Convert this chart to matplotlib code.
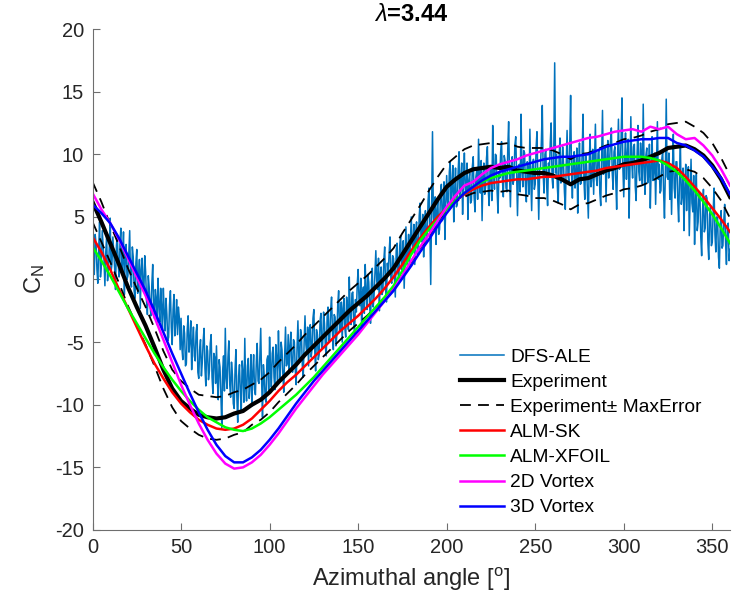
import numpy as np
import matplotlib
matplotlib.use("Agg")
import matplotlib.pyplot as plt

plt.rcParams['font.family'] = ['Liberation Sans', 'DejaVu Sans']
plt.rcParams['mathtext.fontset'] = 'custom'
plt.rcParams['mathtext.rm'] = 'Liberation Sans'
plt.rcParams['mathtext.it'] = 'Liberation Sans:italic'
plt.rcParams['mathtext.bf'] = 'Liberation Sans:bold'
plt.rcParams['axes.unicode_minus'] = False

# DFS-ALE normal force coefficient, every half degree (0..360)
dfs_ale = [
    3.2, 1.0, 0.4, 3.6, 2.9, 0.8, -0.3, 2.4, 4.6, 0.2, 1.1, 3.9, 2.7, 1.5, -0.5, 2.2, 3.5, -0.1, 0.9, 2.6,
    4.9, 0.6, 1.3, 3.4, 2.2, 0.9, -0.8, 2.7, 3.6, 1.2, 0.2, 2.9, 4.1, 0.4, 1.5, 3.8, -1.2, 1.9, 2.8, 0.0,
    0.3, 2.2, 3.9, -0.2, -0.6, 2.6, 1.8, -0.9, -1.5, 1.3, 2.4, -1.1, 0.1, 1.6, -2.3, 0.8, 1.7, -0.4, -1.0, 1.9,
    0.6, -1.7, -2.8, 0.3, -0.6, -2.1, -2.9, -0.4, 1.2, -1.9, -3.1, -0.8, -1.5, -3.6, 0.1, -2.0, -3.4, -0.7, -2.2, -4.0,
    -0.7, -2.6, -4.1, -1.5, -2.8, -4.9, -4.6, -2.0, -0.9, -3.8, -5.2, -2.4, -1.2, -4.5, -3.4, -1.6, -4.4, -2.2, -3.0, -5.6,
    -3.1, -5.5, -6.4, -3.7, -4.3, -6.9, -6.7, -4.0, -2.9, -5.8, -4.9, -3.3, -7.2, -5.0, -3.8, -6.1, -6.5, -4.2, -3.6, -7.4,
    -7.9, -5.6, -4.8, -7.7, -6.6, -4.9, -3.9, -7.1, -8.5, -5.3, -5.7, -8.0, -7.3, -5.1, -4.4, -7.8, -9.1, -5.9, -6.2, -8.3,
    -5.3, -8.0, -9.6, -6.4, -7.0, -9.2, -11.8, -7.3, -6.1, -8.9, -3.9, -7.9, -8.7, -6.2, -4.9, -8.4, -9.4, -6.6, -7.6, -9.9,
    -10.3, -7.2, -5.6, -9.3, -11.4, -7.7, -6.8, -9.0, -10.6, -6.5, -7.4, -9.8, -4.7, -8.6, -9.7, -6.9, -6.3, -9.5, -8.4, -6.0,
    -10.1, -7.4, -6.0, -8.8, -9.2, -6.6, -5.1, -8.1, -8.3, -6.2, -3.9, -8.0, -11.0, -6.8, -7.7, -9.5, -9.8, -6.4, -6.1, -8.9,
    -4.6, -7.0, -8.6, -5.9, -5.4, -7.8, -8.8, -5.2, -6.3, -8.2, -4.1, -6.8, -7.9, -5.0, -5.6, -7.6, -9.0, -6.1, -3.8, -6.9,
    -6.7, -4.4, -7.5, -5.3, -4.2, -7.0, -7.4, -4.8, -5.0, -7.2, -8.4, -5.5, -3.3, -6.2, -6.6, -4.0, -4.5, -6.9, -7.8, -5.1,
    -2.9, -5.2, -5.9, -3.8, -6.9, -4.1, -3.6, -6.2, -5.5, -3.1, -2.4, -5.7, -7.3, -4.0, -4.4, -6.4, -6.0, -3.3, -2.7, -5.6,
    -5.2, -2.6, -3.5, -5.4, -6.1, -3.0, -2.2, -4.9, -4.7, -2.4, -1.4, -4.2, -5.6, -2.8, -3.0, -5.3, -4.4, -2.0, -0.9, -4.1,
    -3.9, -1.8, -5.0, -2.3, -1.5, -3.9, -4.6, -1.4, -2.2, -4.0, 0.2, -2.7, -3.6, -1.1, -1.0, -3.4, -4.3, -1.6, -2.6, -0.4,
    0.8, -1.6, -2.1, 0.1, -3.9, -1.0, -0.6, -2.7, 1.2, -0.9, -2.4, 0.4, -0.2, -2.0, -3.5, -0.3, 0.9, -2.2, -1.3, 0.6,
    2.3, -0.1, -0.8, 1.7, -2.5, 0.4, 1.0, -1.2, -0.9, 1.5, 2.6, -0.6, -1.8, 1.3, 0.5, 2.1, 3.4, 0.0, -0.3, 1.9,
    1.7, 0.2, -1.4, 2.3, 2.9, 0.5, 0.1, 2.7, 3.5, 0.8, 1.4, 3.1, -0.7, 1.9, 4.2, 1.2, 2.0, 3.6, 0.9, 2.9,
    5.0, 2.8, 2.3, 4.4, 1.2, 3.7, 4.6, 2.0, 2.5, 5.1, 6.1, 3.3, 3.0, 5.2, 1.8, 4.0, 5.5, 2.9, 3.6, 6.3,
    7.3, 4.4, -0.4, 5.9, 11.8, 5.0, 4.1, 6.6, 2.8, 5.5, 6.4, 3.6, 4.0, 6.9, 7.6, 4.7, 5.1, 7.8, 3.2, 6.0,
    8.3, 6.2, 5.7, 8.6, 9.4, 6.0, 7.4, 9.1, 4.6, 7.0, 8.9, 5.8, 6.0, 8.7, 10.2, 6.5, 7.8, 9.3, 5.2, 8.0,
    10.1, 7.2, 6.7, 9.3, 4.8, 7.9, 8.5, 6.1, 6.3, 9.0, 9.8, 6.6, 5.4, 8.2, 8.7, 6.4, 11.2, 7.7, 6.9, 9.5,
    4.7, 8.2, 9.3, 6.8, 7.4, 9.7, 10.6, 7.1, 5.9, 8.9, 8.8, 6.3, 12.3, 8.4, 7.2, 10.0, 9.9, 7.0, 5.3, 8.6,
    8.1, 10.2, 11.0, 7.9, 6.6, 9.9, 9.5, 7.3, 7.0, 10.4, 12.6, 8.3, 5.8, 9.1, 9.8, 7.6, 8.0, 10.7, 11.4, 8.5,
    5.1, 8.4, 9.2, 7.0, 13.2, 8.8, 7.4, 10.3, 10.1, 7.5, 6.2, 9.4, 8.9, 6.8, 12.0, 8.1, 5.5, 9.0, 9.6, 7.2,
    7.6, 10.5, 11.8, 8.0, 4.8, 8.7, 9.0, 11.1, 13.9, 8.4, 6.9, 10.0, 10.4, 7.4, 5.9, 9.3, 8.5, 10.9, 12.5, 8.2,
    7.3, 10.4, 17.3, 8.5, 10.0, 7.4, 6.1, 9.8, 11.3, 7.7, 8.0, 10.6, 9.2, 7.0, 5.6, 9.1, 11.9, 8.3, 7.8, 10.8,
    14.7, 8.6, 6.5, 9.7, 10.2, 7.3, 8.4, 10.5, 5.3, 8.8, 10.9, 7.6, 7.7, 10.0, 13.2, 8.0, 6.4, 9.9, 9.1, 7.1,
    4.9, 9.2, 11.6, 7.4, 8.2, 10.4, 6.8, 9.5, 12.4, 8.1, 7.5, 10.1, 10.3, 6.9, 5.9, 9.6, 13.5, 8.4, 8.6, 10.7,
    6.2, 9.6, 11.1, 8.1, 9.4, 11.0, 12.1, 8.5, 7.2, 10.2, 10.6, 7.9, 5.6, 9.7, 12.8, 8.8, 8.9, 11.3, 14.5, 9.0,
    6.6, 9.5, 11.7, 8.0, 9.9, 11.2, 4.9, 8.7, 13.0, 9.4, 8.1, 10.6, 10.8, 7.4, 6.3, 9.8, 12.3, 8.6, 7.9, 10.9,
    9.7, 7.6, 14.0, 9.0, 6.8, 9.9, 10.5, 7.7, 8.3, 10.8, 5.7, 8.9, 11.4, 7.9, 8.8, 10.1, 6.0, 9.3, 12.6, 8.0,
    9.2, 6.9, 7.1, 9.6, 10.3, 7.0, 4.9, 8.5, 14.4, 8.2, 8.0, 10.1, 6.4, 9.0, 5.2, 8.8, 11.6, 7.3, 6.5, 9.4,
    9.4, 6.3, 4.6, 8.1, 10.8, 6.0, 6.7, 8.9, 3.9, 7.2, 9.2, 5.5, 7.8, 9.0, 3.5, 6.6, 9.6, 6.1, 5.4, 8.3,
    2.8, 6.1, 8.4, 3.9, 4.6, 7.0, 6.9, 3.4, 1.9, 5.5, 7.2, 3.8, 4.1, 6.7, 6.5, 3.0, 1.6, 5.2, 5.8, 2.7,
    3.0, 5.4, 7.3, 3.6, 2.2, 5.0, 4.9, 1.8, 0.9, 4.3, 5.5, 2.5, 2.7, 4.7, 6.0, 2.9, 1.2, 4.1, 4.5, 1.5,
    2.4]

# everything below on a 5 degree grid (0..360)
experiment = [
    6.2, 4.6, 2.9, 1.2, -0.6, -2.2, -3.7, -5.4, -7.2, -8.7,
    -9.7, -10.3, -10.8, -11.0, -11.1, -11.0, -10.7, -10.5, -10.0, -9.6,
    -9.0, -8.2, -7.5, -6.8, -6.0, -5.3, -4.6, -3.9, -3.2, -2.5,
    -1.9, -1.3, -0.6, 0.1, 0.9, 2.0, 3.1, 4.2, 5.3, 6.4,
    7.4, 8.0, 8.5, 8.8, 8.9, 9.0, 8.9, 9.0, 8.7, 8.6,
    8.5, 8.5, 8.3, 8.0, 7.6, 8.0, 8.1, 8.4, 8.7, 8.9,
    9.2, 9.3, 9.5, 9.8, 10.1, 10.5, 10.6, 10.7, 10.4, 9.9,
    9.1, 8.0, 6.6]
max_error = [
    1.6, 1.6, 1.5, 1.5, 1.5, 1.5, 1.5, 1.5, 1.5, 1.5,
    1.6, 1.6, 1.6, 1.7, 1.7, 1.7, 1.7, 1.7, 1.6, 1.6,
    1.6, 1.6, 1.6, 1.6, 1.6, 1.6, 1.6, 1.6, 1.6, 1.6,
    1.6, 1.6, 1.6, 1.6, 1.6, 1.7, 1.7, 1.7, 1.8, 1.8,
    1.8, 1.8, 1.9, 1.9, 1.9, 1.9, 1.9, 1.9, 1.9, 1.9,
    2.0, 2.0, 2.0, 2.0, 2.0, 2.0, 2.0, 2.0, 2.0, 2.0,
    2.0, 2.0, 2.0, 2.0, 1.9, 1.9, 1.9, 1.9, 1.8, 1.8,
    1.8, 1.7, 1.7]
alm_sk = [
    3.4, 2.2, 0.8, -0.8, -2.3, -3.8, -5.3, -6.7, -7.9, -9.0,
    -9.9, -10.6, -11.2, -11.6, -11.9, -12.0, -11.9, -11.6, -11.1, -10.4,
    -9.7, -8.9, -8.2, -7.6, -6.9, -6.2, -5.5, -4.8, -4.1, -3.5,
    -2.9, -2.2, -1.5, -0.7, 0.2, 1.2, 2.3, 3.3, 4.2, 5.0,
    5.7, 6.3, 6.8, 7.2, 7.5, 7.7, 7.8, 7.9, 8.0, 8.0,
    8.1, 8.2, 8.2, 8.3, 8.4, 8.5, 8.6, 8.7, 8.9, 9.0,
    9.1, 9.2, 9.3, 9.4, 9.5, 9.3, 8.9, 8.2, 7.4, 6.6,
    5.7, 4.8, 3.8]
alm_xfoil = [
    2.6, 1.5, 0.3, -1.0, -2.3, -3.5, -4.7, -5.9, -7.0, -8.0,
    -8.9, -9.7, -10.4, -11.0, -11.4, -11.8, -12.0, -12.1, -11.9, -11.5,
    -11.0, -10.4, -9.8, -9.2, -8.5, -7.8, -7.0, -6.2, -5.4, -4.6,
    -3.8, -3.0, -2.2, -1.4, -0.5, 0.7, 2.0, 3.1, 4.0, 4.8,
    5.6, 6.3, 6.9, 7.4, 7.8, 8.1, 8.3, 8.5, 8.6, 8.7,
    8.8, 8.9, 9.0, 9.1, 9.2, 9.3, 9.4, 9.5, 9.6, 9.7,
    9.8, 9.8, 9.8, 9.7, 9.5, 9.1, 8.6, 7.9, 7.1, 6.2,
    5.2, 4.1, 2.9]
vortex_2d = [
    6.9, 5.6, 4.5, 3.2, 1.7, 0.2, -1.3, -3.0, -4.8, -6.6,
    -8.4, -10.0, -11.5, -12.8, -13.9, -14.7, -15.1, -15.0, -14.6, -14.0,
    -13.2, -12.3, -11.3, -10.3, -9.4, -8.5, -7.6, -6.8, -6.0, -5.2,
    -4.4, -3.5, -2.6, -1.7, -0.8, 0.3, 1.5, 2.6, 3.6, 4.7,
    5.8, 6.7, 7.5, 7.8, 8.4, 8.9, 9.2, 9.4, 9.6, 9.9,
    10.1, 10.3, 10.5, 10.7, 10.9, 11.1, 11.3, 11.4, 11.6, 11.8,
    11.9, 12.0, 11.8, 12.2, 12.0, 12.2, 11.6, 11.2, 11.3, 10.7,
    9.9, 8.8, 7.5]
vortex_3d = [
    6.0, 5.3, 4.5, 3.3, 1.9, 0.5, -0.9, -2.5, -4.2, -5.9,
    -7.5, -9.1, -10.6, -12.0, -13.2, -14.1, -14.6, -14.6, -14.2, -13.6,
    -12.8, -11.9, -10.9, -9.9, -9.0, -8.1, -7.3, -6.5, -5.7, -4.9,
    -4.1, -3.3, -2.5, -1.7, -0.9, 0.1, 1.1, 2.2, 3.2, 4.3,
    5.3, 6.2, 6.9, 7.4, 7.9, 8.3, 8.6, 8.8, 9.0, 9.2,
    9.4, 9.6, 9.7, 9.8, 9.8, 9.9, 10.0, 10.3, 10.6, 10.8,
    11.0, 11.1, 11.2, 11.2, 11.3, 11.3, 10.9, 10.7, 10.3, 9.8,
    9.0, 8.1, 6.8]

theta_dfs = np.linspace(0, 360, len(dfs_ale))
theta = np.linspace(0, 360, len(experiment))
exp_arr = np.array(experiment)
err_arr = np.array(max_error)

fig = plt.figure(figsize=(7.33, 6.08), dpi=100)
ax = fig.add_axes([0.1262, 0.1283, 0.8697, 0.824])

ax.plot(theta_dfs, dfs_ale, color='#0072BD', lw=1.1, label='DFS-ALE')
ax.plot(theta, exp_arr, color='k', lw=3.0, label='Experiment')
ax.plot(theta, exp_arr + err_arr, color='k', lw=1.3, ls=(0, (6, 4)),
        label='Experiment\u00b1 MaxError')
ax.plot(theta, exp_arr - err_arr, color='k', lw=1.3, ls=(0, (6, 4)))
ax.plot(theta, alm_sk, color='#FF0000', lw=1.8, label='ALM-SK')
ax.plot(theta, alm_xfoil, color='#00FF00', lw=1.8, label='ALM-XFOIL')
ax.plot(theta, vortex_2d, color='#FF00FF', lw=1.8, label='2D Vortex')
ax.plot(theta, vortex_3d, color='#0000FF', lw=1.8, label='3D Vortex')

ax.set_xlim(0, 360)
ax.set_ylim(-20, 20)
ax.set_xticks(np.arange(0, 351, 50))
ax.set_yticks(np.arange(-20, 21, 5))
for side in ['top', 'right']:
    ax.spines[side].set_visible(False)
for side in ['left', 'bottom']:
    ax.spines[side].set_color('#6e6e6e')
    ax.spines[side].set_linewidth(0.8)
ax.tick_params(direction='in', length=5, width=0.8, color='#6e6e6e',
               labelsize=14.5, labelcolor='#262626', pad=6)

ax.set_xlabel('Azimuthal angle [$^\\mathregular{o}$]', fontsize=17,
              color='#262626', labelpad=6)
ax.set_ylabel('C$_\\mathregular{N}$', fontsize=17, color='#262626',
              labelpad=6)
ax.set_title('$\\lambda$=3.44', fontsize=17, fontweight='bold', pad=6)

leg = ax.legend(loc='lower left', bbox_to_anchor=(0.565, 0.012),
                frameon=False, fontsize=13.8, handlelength=2.3,
                handletextpad=0.3, labelspacing=0.4, borderaxespad=0)

fig.savefig('out.png', dpi=100)
